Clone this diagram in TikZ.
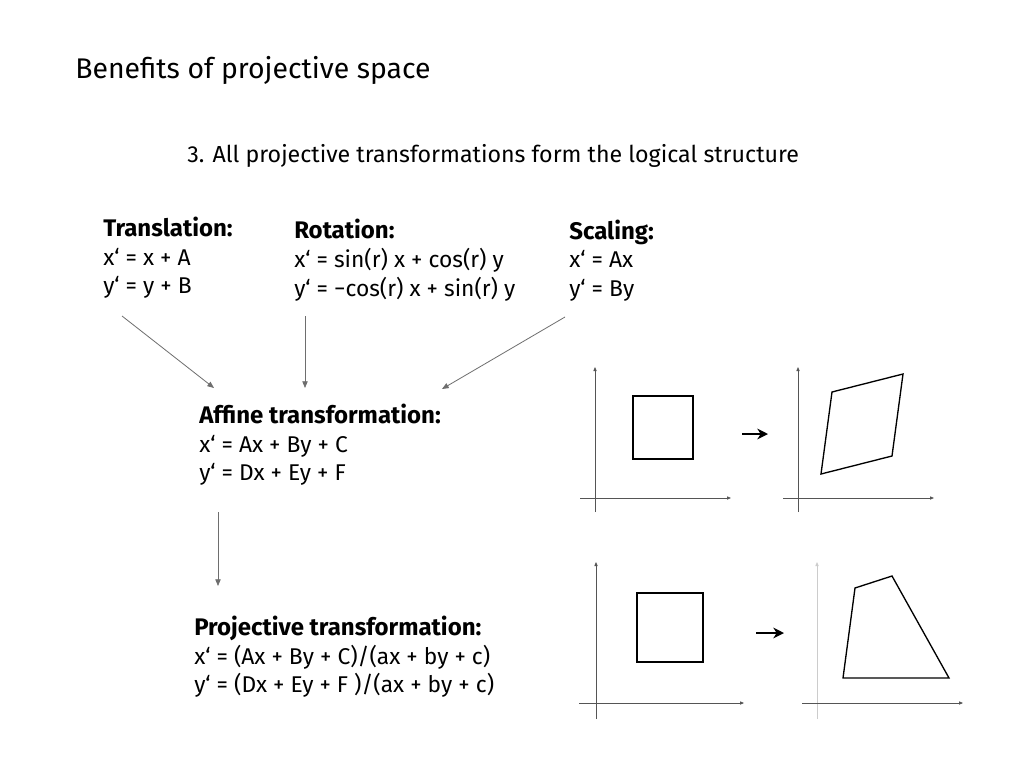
\documentclass[tikz,border=0pt]{standalone}
\usepackage{fontspec}
\setmainfont{Fira Sans}
\usetikzlibrary{arrows.meta}
\definecolor{conncol}{HTML}{6E6E6E}
\definecolor{axiscol}{HTML}{555555}
\definecolor{lightaxis}{HTML}{CCCCCC}
\begin{document}
\begin{tikzpicture}[x=0.75pt,y=-0.75pt,
  txt/.style={anchor=base west,inner sep=0pt,font=\fontsize{17.1}{20}\selectfont},
  hd/.style={anchor=base west,inner sep=0pt,font=\fontsize{18}{21}\selectfont\bfseries},
  conn/.style={draw=conncol,line width=0.6pt,-{Triangle[length=5pt,width=4pt]}},
  axis/.style={draw=axiscol,line width=0.6pt,-{Triangle[length=3pt,width=2.4pt]}},
  figline/.style={draw=black,line width=1pt,line join=miter},
  maparrow/.style={draw=black,line width=2pt,-{Stealth[length=8pt,width=8pt,inset=2.5pt]}}]
\useasboundingbox[fill=white] (0,0) rectangle (1024,768);
% titles
\node[anchor=base west,inner sep=0pt,font=\fontsize{21.3}{25}\selectfont] (title) at (75,78) {Benefits of projective space};
\node[anchor=base west,inner sep=0pt,font=\fontsize{17.4}{20}\selectfont] (sub) at (187,162) {3. All projective transformations form the logical structure};
% translation
\node[hd] (tr) at (103,236) {Translation:};
\node[txt] (tr1) at (103,265) {x‘ = x + A};
\node[txt] (tr2) at (103,293) {y‘ = y + B};
% rotation
\node[hd] (ro) at (294,238) {Rotation:};
\node[txt] (ro1) at (294,267) {x‘ = sin(r) x + cos(r) y};
\node[txt] (ro2) at (294,296) {y‘ = −cos(r) x + sin(r) y};
% scaling
\node[hd] (sc) at (569,239) {Scaling:};
\node[txt] (sc1) at (569,267) {x‘ = Ax};
\node[txt] (sc2) at (569,296) {y‘ = By};
% affine
\node[hd] (af) at (199,423) {Affine transformation:};
\node[txt] (af1) at (199,452) {x‘ = Ax + By + C};
\node[txt] (af2) at (199,480) {y‘ = Dx + Ey + F};
% projective
\node[hd] (pr) at (194,635) {Projective transformation:};
\node[txt] (pr1) at (194,664) {x‘ = (Ax + By + C)/(ax + by + c)};
\node[txt] (pr2) at (194,692) {y‘ = (Dx + Ey + F )/(ax + by + c)};
% connector endpoints
\coordinate (trout) at (122,316);
\coordinate (roout) at (305,316);
\coordinate (scout) at (565,317);
\coordinate (afin1) at (214,388);
\coordinate (afin2) at (305,388);
\coordinate (afin3) at (442,389);
\coordinate (afout) at (218,512);
\coordinate (prin) at (218,586);
\draw[conn] (trout) -- (afin1);
\draw[conn] (roout) -- (afin2);
\draw[conn] (scout) -- (afin3);
\draw[conn] (afout) -- (prin);
% graph 1
\draw[axis] (595,512) -- (595,367);
\draw[axis] (580,498) -- (731,498);
\draw[figline] (633,396) rectangle (693,459);
\draw[maparrow] (742,434) -- (768,434);
\draw[axis] (798,512) -- (798,367);
\draw[axis] (783,498) -- (934,498);
\draw[figline] (832,392) -- (903,374) -- (892,456) -- (821,474) -- cycle;
% graph 2
\draw[axis] (596,719) -- (596,562);
\draw[axis] (579,703) -- (744,703);
\draw[figline] (637,593) rectangle (703,662);
\draw[maparrow] (756,633) -- (784,633);
\draw[axis,draw=lightaxis] (817,719) -- (817,562);
\draw[axis] (802,703) -- (963,703);
\draw[figline] (855,588) -- (892,576) -- (949,678) -- (843,678) -- cycle;
\end{tikzpicture}
\end{document}
